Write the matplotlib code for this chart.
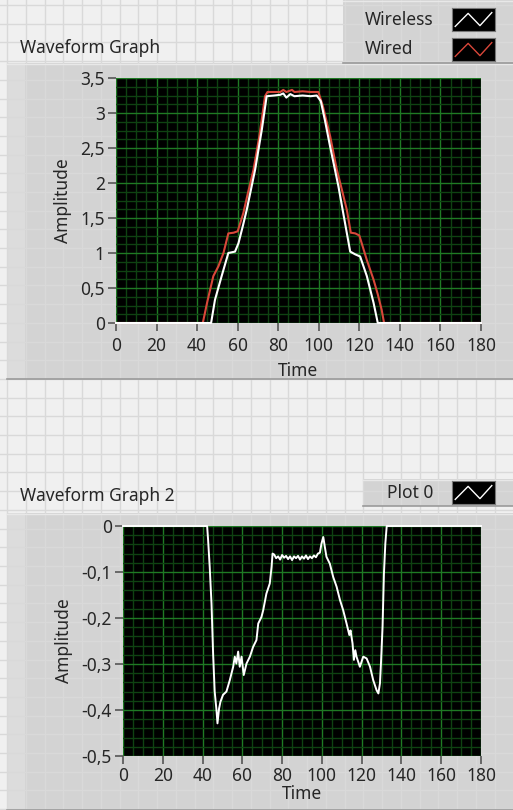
import matplotlib
matplotlib.use("Agg")
import matplotlib.pyplot as plt
from matplotlib.patches import Rectangle
from matplotlib.ticker import MultipleLocator, FixedLocator, FixedFormatter

plt.rcParams['font.family'] = ['Noto Sans', 'DejaVu Sans']

## data
wired_t = [0, 42.8, 45, 48, 50.5, 53, 55.4, 58, 60, 62.8, 65, 67.8, 70.7, 73.5, 74.7,
           78, 81, 82.5, 84, 86.8, 88, 92, 96, 99.8, 102, 105.6, 108.9, 111, 113.8,
           115.8, 118, 120, 123.7, 127, 129, 131, 132.2, 180]
wired_v = [0, 0, 0.3, 0.67, 0.81, 1.0, 1.28, 1.29, 1.31, 1.57, 1.85, 2.19, 2.67, 3.24, 3.3,
           3.3, 3.3, 3.33, 3.3, 3.33, 3.3, 3.31, 3.3, 3.3, 3.1, 2.67, 2.19, 1.95, 1.62,
           1.29, 1.28, 1.25, 0.9, 0.62, 0.42, 0.19, 0, 0]

wireless_t = [0, 46.9, 48.8, 52.1, 55.4, 58.7, 60.4, 62.5, 64.5, 68.6, 71.9, 74.3, 78, 81,
              82.5, 84, 86, 88, 92, 96, 99, 101, 103, 105.6, 109.7, 113.8, 115.5, 118,
              120.4, 123.7, 127, 129.1, 180]
wireless_v = [0, 0, 0.33, 0.67, 1.0, 1.02, 1.14, 1.38, 1.62, 2.19, 2.76, 3.24, 3.25, 3.26,
              3.28, 3.22, 3.27, 3.24, 3.25, 3.24, 3.25, 3.17, 2.9, 2.52, 1.95, 1.29, 1.02,
              0.98, 0.95, 0.67, 0.29, 0, 0]

plot0_t = [0, 42.3, 42.8, 43.6, 44.5, 45.3, 46.1, 47.0, 47.5, 48.3, 49.0, 50.3, 52.0, 53.7,
           55.4, 56.2, 57.0, 57.9, 58.7, 59.6, 60.7, 62.1, 63.8, 65.4, 67.1, 68.0, 69.6,
           70.5, 72.1, 73.8, 74.7, 75.2, 76, 77, 78, 79, 80, 81, 82, 83, 84, 85, 86, 87,
           88, 89, 90, 91, 92, 93, 94, 95, 96, 97, 98, 99, 99.8, 100.7, 101.5, 102.3,
           104.0, 105.7, 107.4, 109.1, 110.7, 112.4, 113.8, 114.4, 115.4, 116.1, 116.8,
           117.4, 119.1, 120.8, 122.5, 124.2, 125.8, 127.5, 128.4, 129.2, 129.7, 130.5,
           131.2, 131.9, 132.6, 180]
plot0_v = [0, 0, -0.031, -0.089, -0.169, -0.277, -0.36, -0.40, -0.429, -0.397, -0.382,
           -0.367, -0.36, -0.335, -0.306, -0.284, -0.299, -0.273, -0.306, -0.284, -0.324,
           -0.299, -0.284, -0.263, -0.248, -0.212, -0.198, -0.183, -0.147, -0.125, -0.089,
           -0.06, -0.062, -0.070, -0.066, -0.073, -0.063, -0.069, -0.065, -0.072, -0.066,
           -0.074, -0.066, -0.070, -0.065, -0.073, -0.066, -0.071, -0.064, -0.072, -0.066,
           -0.070, -0.064, -0.068, -0.060, -0.058, -0.038, -0.024, -0.046, -0.067, -0.082,
           -0.111, -0.132, -0.161, -0.183, -0.212, -0.237, -0.227, -0.255, -0.291, -0.27,
           -0.284, -0.306, -0.284, -0.288, -0.306, -0.335, -0.357, -0.364, -0.342, -0.299,
           -0.219, -0.103, -0.038, 0, 0]

x_ticks = [0, 20, 40, 60, 80, 100, 120, 140, 160, 180]
x_labels = ['0', '20', '40', '60', '80', '100', '120', '140', '160', '180']
top_y_ticks = [0, 0.5, 1, 1.5, 2, 2.5, 3, 3.5]
top_y_labels = ['0', '0,5', '1', '1,5', '2', '2,5', '3', '3,5']
bot_y_ticks = [-0.5, -0.4, -0.3, -0.2, -0.1, 0]
bot_y_labels = ['-0,5', '-0,4', '-0,3', '-0,2', '-0,1', '0']

W, H = 513, 810
TXT = '#262626'
PANEL = '#d3d3d3'
FS = 12.5

fig = plt.figure(figsize=(W / 100, H / 100), dpi=100)

## front panel background with its light grid, drawn in pixel coordinates
bg = fig.add_axes([0, 0, 1, 1])
bg.set_xlim(0, W)
bg.set_ylim(H, 0)
bg.axis('off')
bg.add_patch(Rectangle((0, 0), W, H, fc='#f0f0f0', ec='none'))
gx = 7.0
while gx < W:
    bg.axvline(gx, color='#d9d9d9', lw=1)
    gx += 18.75
gy = 5.0
while gy < H:
    bg.axhline(gy, color='#d9d9d9', lw=1)
    gy += 18.7


def panel(x0, y0, x1, y1, light_strip=True):
    bg.add_patch(Rectangle((x0, y0), x1 - x0, y1 - y0, fc=PANEL, ec='none'))
    if light_strip:
        bg.add_patch(Rectangle((x0, y0), 18, y1 - y0, fc='#dcdcdc', ec='none'))
    bg.plot([x0, x1], [y1, y1], color='#9a9a9a', lw=1.2)
    bg.plot([x0, x1], [y0 + 0.5, y0 + 0.5], color='#e8e8e8', lw=1)


panel(7, 63, W, 379)
panel(7, 513, W, H)
panel(343, 0, W, 63, light_strip=False)
panel(363, 479, W, 506, light_strip=False)

bg.text(20, 53, 'Waveform Graph', fontsize=FS, color=TXT, va='baseline')
bg.text(20, 501, 'Waveform Graph 2', fontsize=FS, color=TXT, va='baseline')
bg.text(365, 25, 'Wireless', fontsize=FS, color=TXT, va='baseline')
bg.text(365, 54, 'Wired', fontsize=FS, color=TXT, va='baseline')
bg.text(387, 498, 'Plot 0', fontsize=FS, color=TXT, va='baseline')


def swatch(x0, y0, color):
    ax_s = fig.add_axes([x0 / W, 1 - (y0 + 23) / H, 43 / W, 23 / H])
    ax_s.set_facecolor('black')
    ax_s.set_xlim(0, 4)
    ax_s.set_ylim(0, 3)
    ax_s.set_xticks([])
    ax_s.set_yticks([])
    for s in ax_s.spines.values():
        s.set_color('#777777')
    ax_s.plot([0.3, 1.5, 2.6, 3.7], [0.6, 2.3, 0.7, 2.4], color=color, lw=1)


swatch(452, 8, 'white')
swatch(452, 38, '#d9473a')
swatch(452, 481, 'white')


def style_graph(ax, yticks, ylabels, ylim, yminor, xpad, xlabelpad):
    ax.set_facecolor('black')
    ax.set_xlim(0, 180)
    ax.set_ylim(*ylim)
    ax.xaxis.set_major_locator(FixedLocator(x_ticks))
    ax.xaxis.set_major_formatter(FixedFormatter(x_labels))
    ax.yaxis.set_major_locator(FixedLocator(yticks))
    ax.yaxis.set_major_formatter(FixedFormatter(ylabels))
    ax.xaxis.set_minor_locator(MultipleLocator(5))
    ax.yaxis.set_minor_locator(MultipleLocator(yminor))
    ax.grid(which='major', color='#1f7a24', lw=1)
    ax.grid(which='minor', color='#0f4212', lw=1)
    ax.set_axisbelow(True)
    ax.tick_params(which='major', direction='out', length=6, width=1.2, color='#555555',
                   labelcolor=TXT, labelsize=FS, pad=2)
    ax.tick_params(which='major', axis='x', pad=xpad)
    ax.tick_params(which='minor', length=0)
    for s in ax.spines.values():
        s.set_visible(False)
    ax.set_xlabel('Time', fontsize=FS, color=TXT, labelpad=xlabelpad)
    ax.set_ylabel('Amplitude', fontsize=FS, color=TXT, labelpad=6)


## top graph: wireless vs wired
ax1 = fig.add_axes([116 / W, 1 - 323 / H, 365 / W, 245 / H])
style_graph(ax1, top_y_ticks, top_y_labels, (0, 3.5), 0.125, 4, 5)
ax1.plot(wired_t, wired_v, color='#d9473a', lw=1.5, clip_on=False)
ax1.plot(wireless_t, wireless_v, color='white', lw=1.5, clip_on=False)

## bottom graph: difference
ax2 = fig.add_axes([123 / W, 1 - 756 / H, 358 / W, 230 / H])
style_graph(ax2, bot_y_ticks, bot_y_labels, (-0.5, 0), 0.02, 2, 0)
ax2.plot(plot0_t, plot0_v, color='white', lw=1.4, clip_on=False)

fig.savefig('out.png', dpi=100)
